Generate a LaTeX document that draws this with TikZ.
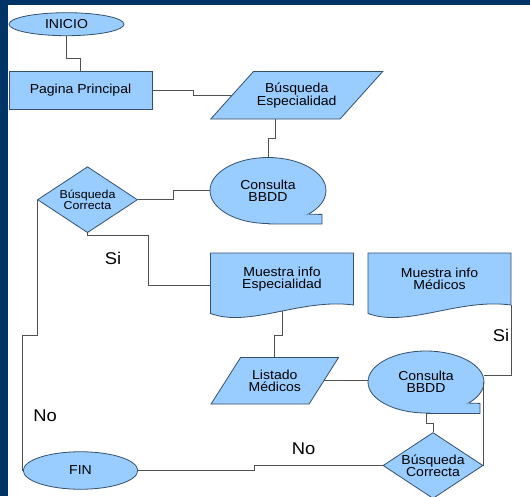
\documentclass[tikz,border=0pt]{standalone}
\usepackage{fontspec}
\setmainfont{Liberation Sans}[FakeStretch=1.08]
\usetikzlibrary{shapes.geometric}

\definecolor{frame}{HTML}{003366}
\definecolor{boxfill}{HTML}{99CCFF}
\definecolor{boxline}{HTML}{35506E}
\definecolor{wire}{HTML}{505050}

\begin{document}
\begin{tikzpicture}[x=1pt, y=-1pt, line width=0.8pt,
          every node/.append style = {align=center, font=\fontsize{13}{12}\selectfont},
          TE/.style = {ellipse, draw=boxline, fill=boxfill, inner sep=0pt},
          PR/.style = {rectangle, draw=boxline, fill=boxfill, minimum width=143pt, minimum height=37.3pt},
          IO/.style = {rectangle, inner sep=0pt},
          DB/.style = {ellipse, draw=boxline, fill=boxfill, inner sep=0pt, minimum width=116pt},
          DE/.style = {diamond, aspect=1.5, draw=boxline, fill=boxfill, inner sep=0pt,
                       minimum width=100pt, minimum height=66pt},
          DO/.style = {rectangle, inner sep=0pt, minimum width=143pt, minimum height=52pt},
          SH/.style = {draw=boxline, fill=boxfill},
          LB/.style = {font=\fontsize{17}{17}\selectfont},
          W/.style  = {draw=wire} ]

\useasboundingbox (0,0) rectangle (530,496);
\fill[frame] (0,0) rectangle (530,496);
\fill[white] (7.5,4.7) rectangle (530,496);

\node[TE, minimum width=115pt, minimum height=23pt] (inicio) at (66.5,24.2) {INICIO};
\node[PR] (pagina) at (80.5,90.3) {Pagina Principal};
\coordinate (be) at (296.7,95.3);
\filldraw[SH] (be) ++(-86,23.75) -- ++(129.3,0) -- ++(42.7,-47.5) -- ++(-129.3,0) -- cycle;
\node[IO, minimum width=129.3pt, minimum height=47.5pt] (busqesp) at (be) {Búsqueda\\Especialidad};
\node[DB, minimum height=66pt] (cons1) at (268,190.5) {Consulta\\BBDD};
\filldraw[SH] (cons1.south) -- ++(54,0) -- ++(0,-9.5) -- (cons1.-30);
\node[DE, font=\fontsize{11.5}{10.5}\selectfont] (busq1) at (87.5,199.7) {Búsqueda\\Correcta};

% documentos
\coordinate (me) at (282,279);
\filldraw[SH] (me) ++(-71.5,-26) -- ++(143,0) -- ++(0,52)
      .. controls +(-53,-7) and +(39.5,14.5) .. ++(-143,8.5) -- cycle;
\node[DO] (muesesp) at (me) {Muestra info\\Especialidad};
\coordinate (mm) at (439.5,279);
\filldraw[SH] (mm) ++(-71.5,-26) -- ++(143,0) -- ++(0,52)
      .. controls +(-53,-7) and +(39.5,14.5) .. ++(-143,8.5) -- cycle;
\node[DO] (muesmed) at (mm) {Muestra info\\Médicos};

\coordinate (li) at (274.8,380.8);
\filldraw[SH] (li) ++(-63.75,23.25) -- ++(98,0) -- ++(29.5,-46.5) -- ++(-98,0) -- cycle;
\node[IO, minimum width=98pt, minimum height=46.5pt] (listado) at (li) {Listado\\Médicos};
\node[DB, minimum height=62pt] (cons2) at (426,382) {Consulta\\BBDD};
\filldraw[SH] (cons2.south) -- ++(54,0) -- ++(0,-10) -- (cons2.-26);
\node[DE] (busq2) at (433,465.5) {Búsqueda\\Correcta};
\node[TE, minimum width=114.5pt, minimum height=37.5pt] (fin) at (80.5,470.5) {FIN};

\node[LB] (si1) at (113,258.5) {Si};
\node[LB] (no1) at (45,415.5) {No};
\node[LB] (no2) at (303.5,448.5) {No};
\node[LB] (si2) at (501,335.5) {Si};

\draw[W] (inicio.south) -- ++(0,22) -| (pagina.north);
\draw[W] (pagina.east) -- ++(40.7,0) |- (busqesp.west);
\draw[W] ([xshift=-21.4pt]busqesp.south) -- ++(0,18.7) -| (cons1.north);
\draw[W] (cons1.west) -- ++(-36.7,0) |- (busq1.east);
\draw[W] (busq1.south) -- ++(0,2.5) -- ++(60.5,0) |- ([yshift=-6.7pt]muesesp.west);
\draw[W] (busq1.west) -- ++(0,135.6) -| (fin.west);
\draw[W] ([yshift=-6pt]muesesp.south) -- ++(0,24) -| (listado.north);
\draw[W] (listado.east) -- (listado.east -| cons2.west);
\draw[W] (cons2.south) -- ++(0,9.7) -| (busq2.north);
\draw[W] (busq2.west) -- ++(-128,0) |- (fin.east);
\draw[W] (busq2.east) -- (busq2.east |- cons2.east);
\draw[W] (muesmed.south east) |- ([yshift=7pt]cons2.east);
\end{tikzpicture}
\end{document}
